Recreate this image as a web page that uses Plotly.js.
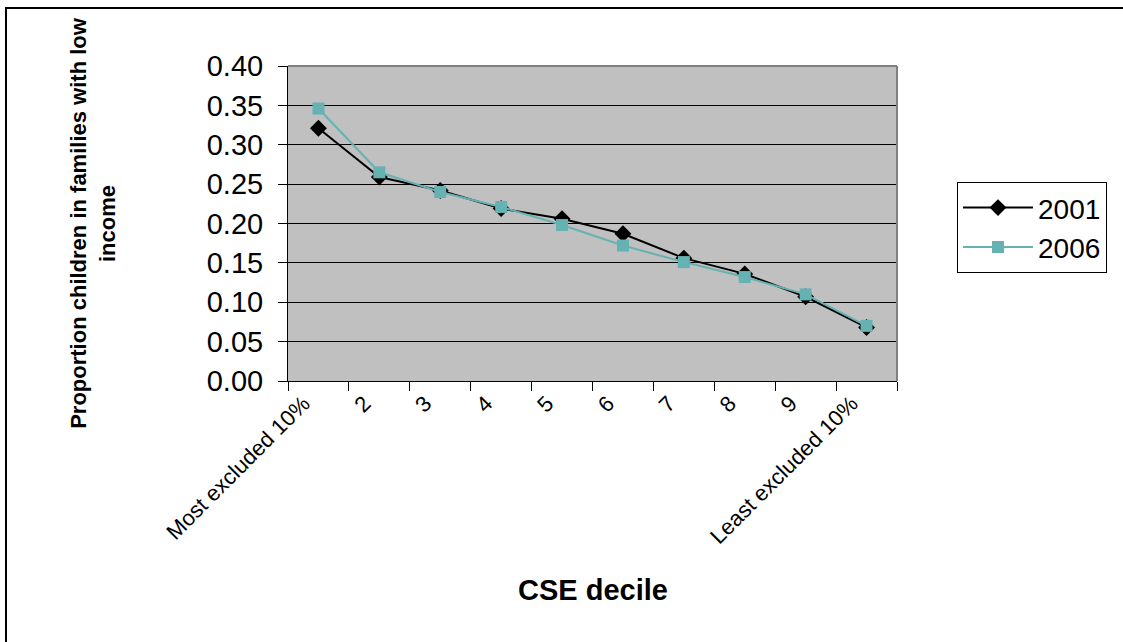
<!DOCTYPE html>
<html>
<head>
<meta charset="utf-8">
<script src="https://cdn.plot.ly/plotly-3.0.1.min.js"></script>
<style>
  html, body { margin: 0; padding: 0; background: #ffffff; }
  #wrap { position: relative; width: 1123px; height: 642px; overflow: hidden; }
  #frame { position: absolute; left: 5px; top: 7px; width: 1200px; height: 700px;
           border-left: 2px solid #000; border-top: 2px solid #000; pointer-events: none; }
  #chart { position: absolute; left: 0; top: 0; width: 1123px; height: 642px; }
</style>
</head>
<body>
<div id="wrap">
  <div id="chart"></div>
  <div id="frame"></div>
</div>
<script>
const categories = ["Most excluded 10%", "2", "3", "4", "5", "6", "7", "8", "9", "Least excluded 10%"];
const values2001 = [0.321, 0.259, 0.242, 0.219, 0.206, 0.187, 0.156, 0.136, 0.107, 0.068];
const values2006 = [0.346, 0.265, 0.240, 0.221, 0.198, 0.172, 0.151, 0.132, 0.110, 0.070];
const seriesNames = ["2001", "2006"];
const yTicks = [0, 0.05, 0.10, 0.15, 0.20, 0.25, 0.30, 0.35, 0.40];
const xTitle = "CSE decile";
const yTitle = "<b>Proportion children in families with low</b><br><b>income</b>";

const font = "Arial, 'Liberation Sans', sans-serif";

const traces = [
  {
    x: categories, y: values2001, name: seriesNames[0], type: "scatter", mode: "lines+markers",
    line: { color: "#000000", width: 2 },
    marker: { symbol: "diamond", size: 13, color: "#000000" }
  },
  {
    x: categories, y: values2006, name: seriesNames[1], type: "scatter", mode: "lines+markers",
    line: { color: "#66B2B2", width: 2 },
    marker: { symbol: "square", size: 12, color: "#66B2B2" }
  }
];

const layout = {
  width: 1123, height: 642,
  margin: { l: 288, r: 226, t: 66, b: 261 },
  paper_bgcolor: "#ffffff",
  plot_bgcolor: "#C0C0C0",
  font: { family: font, color: "#000000" },
  showlegend: true,
  legend: {
    x: 1.0985, y: 0.632, xanchor: "left", yanchor: "top",
    bgcolor: "#ffffff", bordercolor: "#000000", borderwidth: 1,
    font: { family: font, size: 28, color: "#000000" },
    itemwidth: 70
  },
  xaxis: {
    type: "category",
    tickson: "boundaries",
    ticks: "outside", ticklen: 9, tickcolor: "#000000", tickwidth: 1,
    showline: true, linecolor: "#000000", linewidth: 1,
    showgrid: false,
    tickangle: -45,
    ticklabelshift: -15,
    tickfont: { family: font, size: 22, color: "#000000" },
    range: [-0.5, 9.5],
    fixedrange: true
  },
  yaxis: {
    range: [0, 0.40],
    tickvals: yTicks,
    tickformat: ".2f",
    ticks: "outside", ticklen: 9, tickcolor: "#000000", tickwidth: 1,
    ticklabelstandoff: 9,
    showline: true, linecolor: "#000000", linewidth: 1,
    showgrid: true, gridcolor: "#000000", gridwidth: 1,
    zeroline: false,
    tickfont: { family: font, size: 29, color: "#000000" },
    title: { text: yTitle, font: { family: font, size: 22, color: "#000000" }, standoff: 85 },
    fixedrange: true
  },
  annotations: [
    {
      text: "<b>" + xTitle + "</b>", xref: "paper", yref: "paper", x: 0.5, y: 0,
      xanchor: "center", yanchor: "middle", yshift: -209, showarrow: false,
      font: { family: font, size: 29, color: "#000000" }
    }
  ],
  shapes: [
    { type: "line", xref: "paper", yref: "paper", x0: 0, x1: 1, y0: 1, y1: 1, line: { color: "#808080", width: 2 } },
    { type: "line", xref: "paper", yref: "paper", x0: 1, x1: 1, y0: 0, y1: 1, line: { color: "#808080", width: 2 } }
  ]
};

Plotly.newPlot("chart", traces, layout, { displayModeBar: false, staticPlot: true });
</script>
</body>
</html>
